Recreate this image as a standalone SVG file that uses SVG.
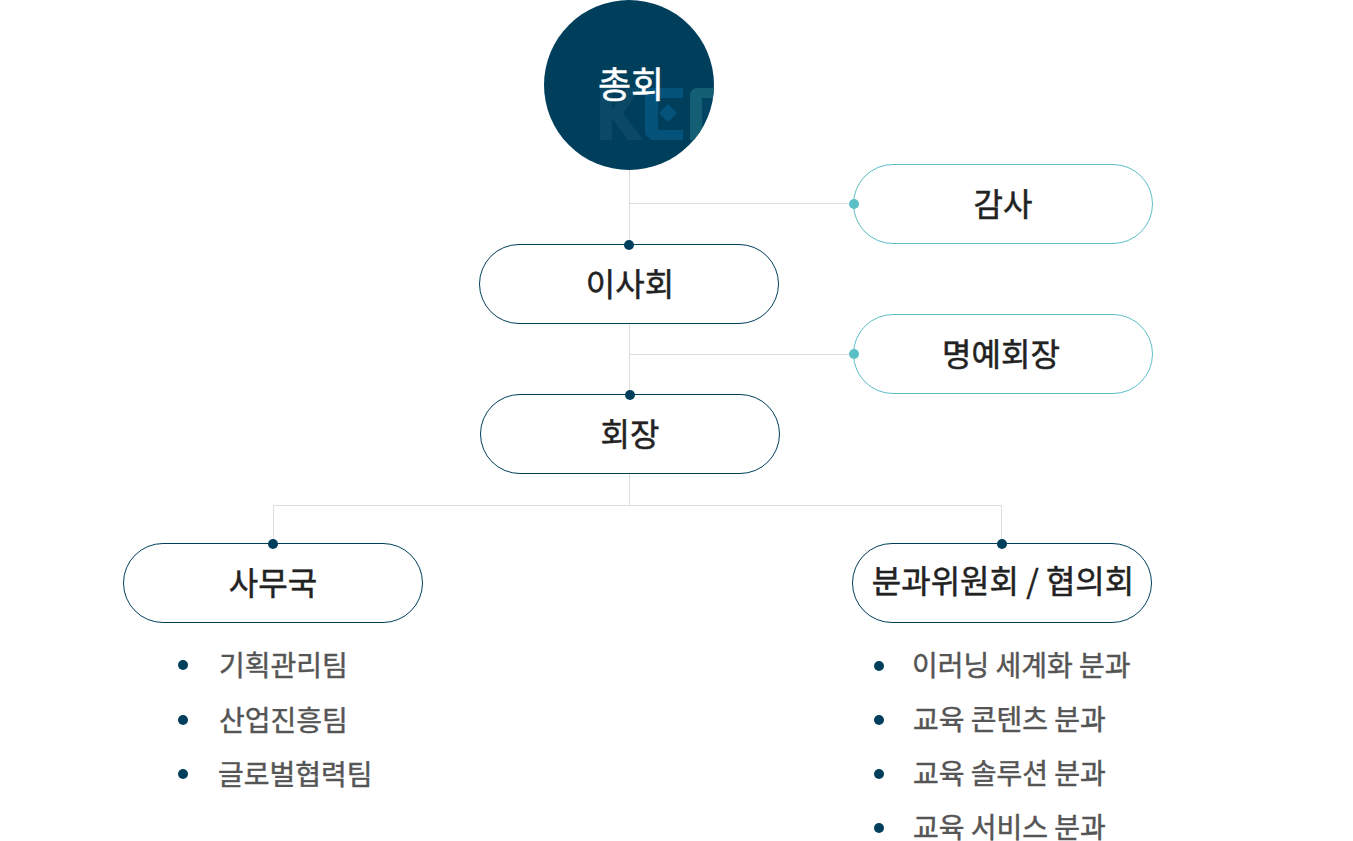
<svg xmlns="http://www.w3.org/2000/svg" width="1353" height="841" viewBox="0 0 1353 841">
<style>
text{font-family:"Noto Sans CJK KR","Noto Sans",sans-serif}
.n{fill:#fff;stroke:#003f5c;stroke-width:1}
.t{fill:#fff;stroke:#5bbfc6;stroke-width:1}
.l{font-size:32px;font-weight:400;fill:#222;text-anchor:middle;stroke:#222;stroke-width:.5}
.i{font-size:28px;font-weight:400;fill:#555;stroke:#555;stroke-width:.45}
.d{fill:#003f5c}
.e{fill:#5bbfc6}
.c{fill:none;stroke:#ddd;stroke-width:1}
</style>
<defs><clipPath id="cc"><circle cx="629" cy="85" r="85"/></clipPath></defs>
<g id="connectors">
<path class="c" d="M629.500 170V245M629.500 203.500H854M629.500 324V395M629.500 354.500H854M629.500 474V505.500M273.500 543V505.500H1001.500V543"/>
</g>
<g id="node-general">
<circle cx="629" cy="85" r="85" fill="#003f5c"/>
<g clip-path="url(#cc)">
<polygon fill="#0a4866" points="600,88 612,88 612,110 627,88 641,88 623,113 643,140 628,140 612,118 612,140 600,140"/>
<polygon fill="#05527a" fill-rule="evenodd" points="645,88 683,88 683,98 658,98 658,130 683,130 683,140 651,140 645,134"/>
<polygon fill="#05527a" points="668,104 677,113 668,122 659,113"/>
<path fill="#155f74" d="M690 140V96Q690 88 698 88H716V98H702V140Z"/>
<path fill="#054f6e" d="M702 98H716V140H702Z" opacity=".35"/>
</g>
<text x="631" y="98" font-size="36" font-weight="400" fill="#fff" stroke="#fff" stroke-width=".5" text-anchor="middle">총회</text>
</g>
<g id="node-audit"><rect class="t" x="853.500" y="164.500" width="299" height="79" rx="39.500"/><circle class="e" cx="854" cy="204" r="5"/><text class="l" x="1003" y="216">감사</text></g>
<g id="node-board"><rect class="n" x="479.500" y="244.500" width="299" height="79" rx="39.500"/><circle class="d" cx="629" cy="245" r="5"/><text class="l" x="630" y="296">이사회</text></g>
<g id="node-honorary"><rect class="t" x="853.500" y="314.500" width="299" height="79" rx="39.500"/><circle class="e" cx="854" cy="354" r="5"/><text class="l" x="1001" y="366">명예회장</text></g>
<g id="node-president"><rect class="n" x="480.500" y="394.500" width="299" height="79" rx="39.500"/><circle class="d" cx="630" cy="395" r="5"/><text class="l" x="630" y="446">회장</text></g>
<g id="node-secretariat"><rect class="n" x="123.500" y="543.500" width="299" height="79" rx="39.500"/><circle class="d" cx="273" cy="544" r="5"/><text class="l" x="273" y="595">사무국</text>
<circle class="d" cx="183" cy="665" r="5"/><text class="i" x="219" y="676">기획관리팀</text>
<circle class="d" cx="183" cy="720" r="5"/><text class="i" x="219" y="731">산업진흥팀</text>
<circle class="d" cx="183" cy="774" r="5"/><text class="i" x="218" y="785">글로벌협력팀</text></g>
<g id="node-committee"><rect class="n" x="852.500" y="543.500" width="299" height="79" rx="39.500"/><circle class="d" cx="1002" cy="544" r="5"/><text class="l" x="1003" y="593">분과위원회 / 협의회</text>
<circle class="d" cx="879" cy="666" r="5"/><text class="i" x="912" y="676">이러닝 세계화 분과</text>
<circle class="d" cx="879" cy="720" r="5"/><text class="i" x="913" y="730">교육 콘텐츠 분과</text>
<circle class="d" cx="879" cy="774" r="5"/><text class="i" x="913" y="784">교육 솔루션 분과</text>
<circle class="d" cx="879" cy="828" r="5"/><text class="i" x="913" y="838">교육 서비스 분과</text></g>
</svg>
